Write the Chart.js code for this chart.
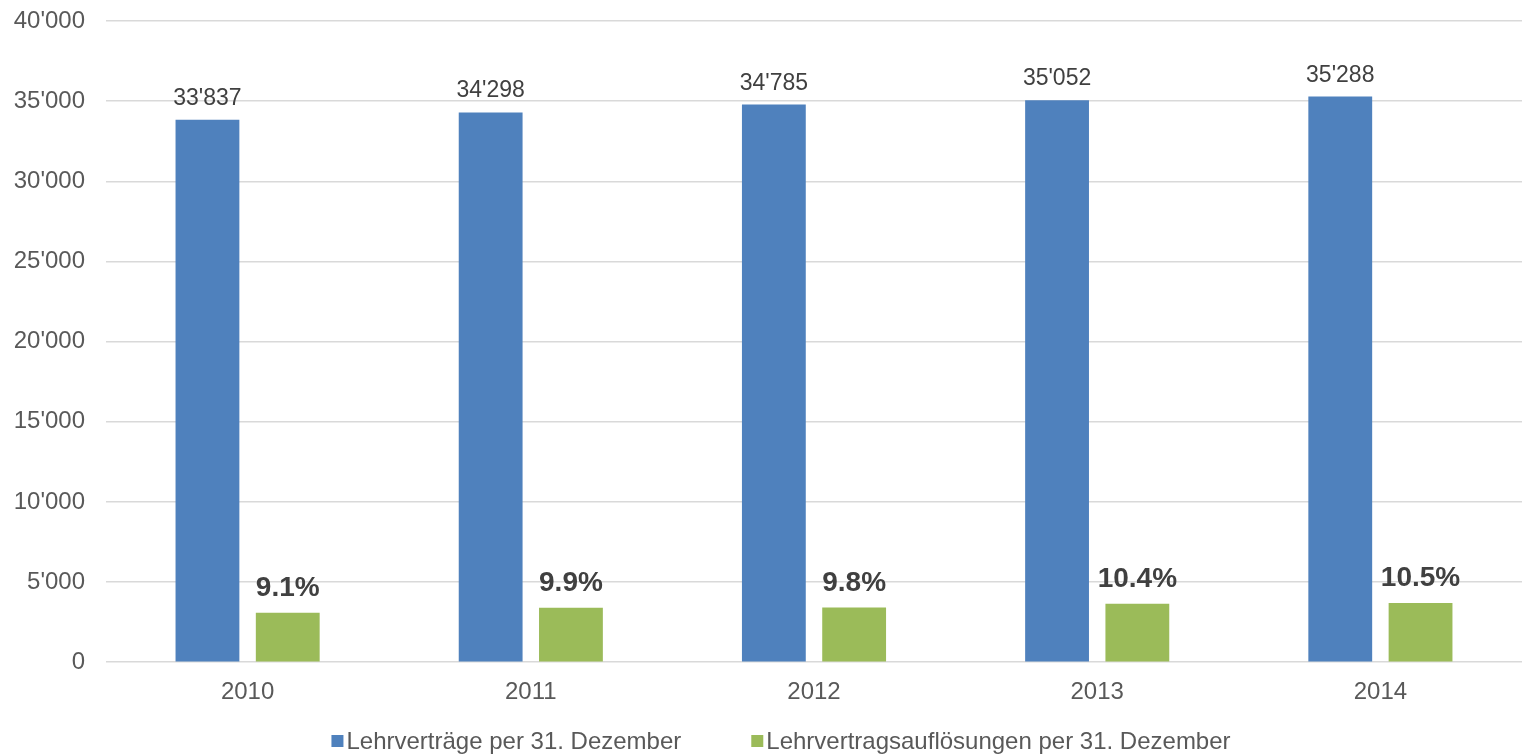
<!DOCTYPE html>
<html>
<head>
<meta charset="utf-8">
<script src="https://cdn.jsdelivr.net/npm/chart.js@4.4.1/dist/chart.umd.min.js"></script>
<style>
  html, body { margin: 0; padding: 0; background: #ffffff; }
  #wrap { width: 1522px; height: 756px; position: relative; }
</style>
</head>
<body>
<div id="wrap"><canvas id="c" width="1522" height="756"></canvas></div>
<script>
const categories = ['2010', '2011', '2012', '2013', '2014'];
const seriesNames = ['Lehrverträge per 31. Dezember', 'Lehrvertragsauflösungen per 31. Dezember'];
const contracts = [33837, 34298, 34785, 35052, 35288];
const dissolutions = [3080, 3400, 3410, 3650, 3700];
const dissolutionRates = ['9.1%', '9.9%', '9.8%', '10.4%', '10.5%'];
const yTicks = [0, 5000, 10000, 15000, 20000, 25000, 30000, 35000, 40000];

const FONT = '"Liberation Sans", Arial, sans-serif';
const BLUE = '#4F81BD';
const GREEN = '#9BBB59';

function fmt(v) {
  return String(Math.round(v)).replace(/\B(?=(\d{3})+(?!\d))/g, "'");
}

const dataLabels = {
  id: 'dataLabels',
  afterDatasetsDraw(chart) {
    const ctx = chart.ctx;
    ctx.save();
    ctx.textAlign = 'center';
    ctx.textBaseline = 'alphabetic';
    chart.getDatasetMeta(0).data.forEach((bar, i) => {
      ctx.font = '23px ' + FONT;
      ctx.fillStyle = '#404040';
      ctx.fillText(fmt(contracts[i]), bar.x, bar.y - 15);
    });
    chart.getDatasetMeta(1).data.forEach((bar, i) => {
      ctx.font = 'bold 28px ' + FONT;
      ctx.fillStyle = '#404040';
      ctx.fillText(dissolutionRates[i], bar.x, bar.y - 17);
    });
    ctx.restore();
  }
};

const customLegend = {
  id: 'customLegend',
  afterDraw(chart) {
    const ctx = chart.ctx;
    ctx.save();
    ctx.font = '24px ' + FONT;
    ctx.textBaseline = 'middle';
    ctx.textAlign = 'left';
    const box = 12, gap = 3, itemGap = 70;
    const ds = chart.data.datasets;
    const widths = ds.map(d => box + gap + ctx.measureText(d.label).width);
    const total = widths.reduce((a, b) => a + b, 0) + itemGap * (ds.length - 1);
    let x = chart.width / 2 + 20 - total / 2;
    const y = 741;
    ds.forEach((d, i) => {
      ctx.fillStyle = d.backgroundColor;
      ctx.fillRect(x, y - box / 2, box, box);
      ctx.fillStyle = '#595959';
      ctx.fillText(d.label, x + box + gap, y + 1);
      x += widths[i] + itemGap;
    });
    ctx.restore();
  }
};

new Chart(document.getElementById('c'), {
  type: 'bar',
  data: {
    labels: categories,
    datasets: [
      { label: seriesNames[0], data: contracts, backgroundColor: BLUE },
      { label: seriesNames[1], data: dissolutions, backgroundColor: GREEN }
    ]
  },
  options: {
    responsive: false,
    animation: false,
    layout: { padding: { top: 21, right: -3, bottom: 41, left: 0 } },
    datasets: { bar: { categoryPercentage: 0.567, barPercentage: 0.795 } },
    plugins: { legend: { display: false }, tooltip: { enabled: false } },
    scales: {
      x: {
        grid: { display: false },
        border: { display: false },
        ticks: { color: '#595959', font: { family: FONT, size: 24 }, padding: 8 }
      },
      y: {
        min: 0,
        max: 40000,
        afterFit(scale) { scale.width = 106; },
        afterBuildTicks(scale) { scale.ticks = yTicks.map(v => ({ value: v })); },
        grid: { color: '#d9d9d9', lineWidth: 1.5, drawTicks: true, tickLength: 18, tickColor: 'rgba(0,0,0,0)' },
        border: { display: false },
        ticks: {
          color: '#595959',
          font: { family: FONT, size: 24 },
          padding: 3,
          callback: v => fmt(v)
        }
      }
    }
  },
  plugins: [dataLabels, customLegend]
});
</script>
</body>
</html>
